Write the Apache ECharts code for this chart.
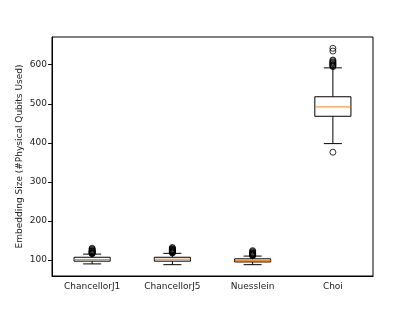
<!DOCTYPE html>
<html>
<head>
<meta charset="utf-8">
<script src="https://cdn.jsdelivr.net/npm/echarts@6/dist/echarts.min.js"></script>
<style>html,body{margin:0;padding:0;background:#fff}#c{width:415px;height:311px}</style>
</head>
<body>
<div id="c"></div>
<script>
const categories = ['ChancellorJ1', 'ChancellorJ5', 'Nuesslein', 'Choi'];
// [lowerWhisker, Q1, median, Q3, upperWhisker]
const boxStats = [
  [90, 97, 101, 107, 115],
  [88, 97, 102, 107, 117],
  [88, 95, 99, 103, 110],
  [398, 468, 492, 518, 592]
];
const outliersJ1 = [116, 117, 118, 119, 120, 121, 122, 123, 124, 126, 128, 130];
const outliersJ5 = [118, 119, 120, 121, 122, 123, 124, 125, 126, 127, 128, 130, 132];
const outliersNuesslein = [111, 112, 113, 114, 115, 116, 117, 118, 120, 122, 124];
const outliersChoi = [376, 595, 597, 599, 601, 603, 605, 607, 610, 612, 635, 642];
const yTicks = [100, 200, 300, 400, 500, 600];

const outlierLists = [outliersJ1, outliersJ5, outliersNuesslein, outliersChoi];
const outlierData = [];
outlierLists.forEach((list, i) => list.forEach(v => outlierData.push([i, v])));
const boxData = boxStats.map((s, i) => [i].concat(s));

const chart = echarts.init(document.getElementById('c'), null, {renderer: 'canvas'});
const font = 'DejaVu Sans';
const txt = '#222';
chart.setOption({
  animation: false,
  backgroundColor: '#fff',
  grid: {left: 52, right: 42, top: 37, bottom: 35, show: true, borderColor: '#000', borderWidth: 1, backgroundColor: 'transparent'},
  xAxis: {
    type: 'category',
    data: categories,
    boundaryGap: true,
    axisLine: {lineStyle: {color: '#000', width: 1}},
    axisTick: {alignWithLabel: true, length: 4, lineStyle: {color: '#000'}},
    axisLabel: {color: txt, fontFamily: font, fontSize: 9, margin: 6},
    splitLine: {show: false}
  },
  yAxis: {
    type: 'value',
    min: 59, max: 671,
    name: 'Embedding Size (#Physical Qubits Used)',
    nameLocation: 'middle',
    nameGap: 28,
    nameMoveOverlap: false,
    nameTextStyle: {color: txt, fontFamily: font, fontSize: 9},
    axisLine: {show: true, lineStyle: {color: '#000', width: 1}},
    axisTick: {show: true, length: 4, lineStyle: {color: '#000'}, customValues: yTicks},
    axisLabel: {color: txt, fontFamily: font, fontSize: 9, margin: 5, customValues: yTicks},
    splitLine: {show: false}
  },
  series: [
    {
      type: 'custom',
      data: boxData,
      renderItem: function (params, api) {
        const ci = api.value(0);
        const bw = api.size([1, 0])[0];
        const boxW = bw * 0.45;
        const capW = boxW / 2;
        const pLow = api.coord([ci, api.value(1)]);
        const pQ1 = api.coord([ci, api.value(2)]);
        const pMed = api.coord([ci, api.value(3)]);
        const pQ3 = api.coord([ci, api.value(4)]);
        const pHigh = api.coord([ci, api.value(5)]);
        const cx = pMed[0];
        const black = {stroke: '#000', lineWidth: 1, fill: null};
        return {
          type: 'group',
          children: [
            {type: 'line', shape: {x1: cx, y1: pQ3[1], x2: cx, y2: pHigh[1]}, style: black},
            {type: 'line', shape: {x1: cx, y1: pQ1[1], x2: cx, y2: pLow[1]}, style: black},
            {type: 'line', shape: {x1: cx - capW / 2, y1: pHigh[1], x2: cx + capW / 2, y2: pHigh[1]}, style: black},
            {type: 'line', shape: {x1: cx - capW / 2, y1: pLow[1], x2: cx + capW / 2, y2: pLow[1]}, style: black},
            {type: 'rect', shape: {x: cx - boxW / 2, y: pQ3[1], width: boxW, height: pQ1[1] - pQ3[1]}, style: {stroke: '#000', lineWidth: 1, fill: '#fff'}},
            {type: 'line', shape: {x1: cx - boxW / 2, y1: pMed[1], x2: cx + boxW / 2, y2: pMed[1]}, style: {stroke: '#ff7f0e', lineWidth: 1}}
          ]
        };
      },
      z: 2
    },
    {
      type: 'scatter',
      data: outlierData,
      symbol: 'circle',
      symbolSize: 6,
      itemStyle: {color: 'transparent', borderColor: '#000', borderWidth: 1},
      z: 3
    }
  ]
});
</script>
</body>
</html>
